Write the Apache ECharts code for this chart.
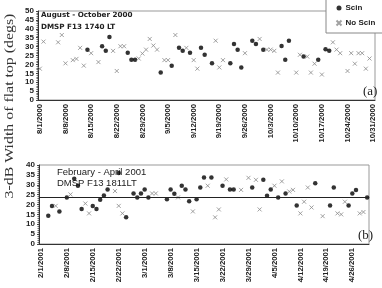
<!DOCTYPE html>
<html>
<head>
<meta charset="utf-8">
<script src="https://cdn.jsdelivr.net/npm/echarts@6/dist/echarts.min.js"></script>
<style>
  html, body { margin: 0; padding: 0; background: #fff; }
  #chart { width: 382px; height: 288px; }
</style>
</head>
<body>
<div id="chart"></div>
<script>
// weekly tick labels shown under each panel
const ticksA = ['8/1/2000', '8/8/2000', '8/15/2000', '8/22/2000', '8/29/2000', '9/5/2000', '9/12/2000',
  '9/19/2000', '9/26/2000', '10/3/2000', '10/10/2000', '10/17/2000', '10/24/2000', '10/31/2000'];
const ticksB = ['2/1/2001', '2/8/2001', '2/15/2001', '2/22/2001', '3/1/2001', '3/8/2001', '3/15/2001',
  '3/22/2001', '3/29/2001', '4/5/2001', '4/12/2001', '4/19/2001', '4/26/2001'];

// panel (a): Aug - Oct 2000
const scinA = [
  ['8/14/2000', 28.3], ['8/18/2000', 30.2], ['8/19/2000', 27.6], ['8/20/2000', 35.4], ['8/25/2000', 26.5],
  ['8/26/2000', 22.6], ['8/27/2000', 22.6], ['9/3/2000', 15.4], ['9/6/2000', 19.3], ['9/8/2000', 29.4],
  ['9/9/2000', 27.6], ['9/11/2000', 26.5], ['9/14/2000', 29.4], ['9/15/2000', 25.4], ['9/17/2000', 20.6],
  ['9/22/2000', 20.6], ['9/23/2000', 31.5], ['9/24/2000', 28.3], ['9/25/2000', 18.3], ['9/28/2000', 33.3],
  ['9/29/2000', 31.5], ['10/1/2000', 28.3], ['10/6/2000', 30.4], ['10/7/2000', 22.6], ['10/8/2000', 33.3],
  ['10/12/2000', 24.4], ['10/16/2000', 22.6], ['10/18/2000', 28.5], ['10/19/2000', 27.6]
];
const noScinA = [
  ['8/1/2000', 17.6], ['8/2/2000', 32.8], ['8/6/2000', 32.4], ['8/7/2000', 36.5], ['8/8/2000', 20.6],
  ['8/10/2000', 22.4], ['8/11/2000', 23.1], ['8/12/2000', 29.3], ['8/13/2000', 19.3], ['8/15/2000', 26.3],
  ['8/17/2000', 21.3], ['8/21/2000', 27.6], ['8/22/2000', 16.3], ['8/23/2000', 30.2], ['8/24/2000', 30.2],
  ['8/28/2000', 23.3], ['8/29/2000', 26.1], ['8/30/2000', 28.3], ['8/31/2000', 34.3], ['9/1/2000', 30.6],
  ['9/2/2000', 28.3], ['9/4/2000', 22.4], ['9/5/2000', 22.4], ['9/7/2000', 36.5], ['9/10/2000', 29.3],
  ['9/12/2000', 22.4], ['9/13/2000', 17.6], ['9/18/2000', 33.3], ['9/19/2000', 18.3], ['9/20/2000', 22.4],
  ['9/26/2000', 26.3], ['9/30/2000', 34.3], ['10/2/2000', 28.3], ['10/3/2000', 28.3], ['10/4/2000', 27.6],
  ['10/5/2000', 15.4], ['10/10/2000', 15.4], ['10/11/2000', 25.4], ['10/13/2000', 24.4], ['10/14/2000', 15.4],
  ['10/15/2000', 20.4], ['10/17/2000', 14.3], ['10/20/2000', 32.4], ['10/21/2000', 28.3], ['10/22/2000', 26.3],
  ['10/24/2000', 16.3], ['10/25/2000', 26.3], ['10/26/2000', 20.4], ['10/27/2000', 26.3], ['10/28/2000', 26.3],
  ['10/29/2000', 17.6], ['10/30/2000', 23.3]
];

// panel (b): Feb - Apr 2001
const scinB = [
  ['2/3/2001', 14.3], ['2/4/2001', 19.3], ['2/6/2001', 16.5], ['2/8/2001', 23.6], ['2/10/2001', 33],
  ['2/11/2001', 29.5], ['2/12/2001', 17.7], ['2/15/2001', 19.3], ['2/16/2001', 17.7], ['2/17/2001', 22.4],
  ['2/18/2001', 24.6], ['2/19/2001', 27.6], ['2/22/2001', 36], ['2/24/2001', 13.6], ['2/26/2001', 25.6],
  ['2/27/2001', 23.6], ['2/28/2001', 25.6], ['3/1/2001', 27.6], ['3/2/2001', 23.6], ['3/7/2001', 22.7],
  ['3/8/2001', 27.6], ['3/9/2001', 25.4], ['3/11/2001', 29.5], ['3/12/2001', 27.6], ['3/13/2001', 21.7],
  ['3/15/2001', 22.7], ['3/16/2001', 28.6], ['3/17/2001', 33.7], ['3/19/2001', 33.7], ['3/22/2001', 29.5],
  ['3/24/2001', 27.6], ['3/25/2001', 27.6], ['3/30/2001', 28.6], ['4/2/2001', 32.5], ['4/3/2001', 24.4],
  ['4/4/2001', 27.6], ['4/6/2001', 23.6], ['4/8/2001', 25.6], ['4/11/2001', 19.5], ['4/16/2001', 30.7],
  ['4/20/2001', 19.5], ['4/21/2001', 28.6], ['4/25/2001', 19.5], ['4/26/2001', 25.6], ['4/27/2001', 27.4],
  ['4/30/2001', 23.6]
];
const noScinB = [
  ['2/5/2001', 19.3], ['2/9/2001', 25.1], ['2/13/2001', 20.5], ['2/14/2001', 15.5], ['2/21/2001', 26.8],
  ['2/22/2001', 19.3], ['2/23/2001', 15.5], ['3/3/2001', 25.6], ['3/4/2001', 25.6], ['3/10/2001', 23.6],
  ['3/14/2001', 16.5], ['3/18/2001', 29.5], ['3/20/2001', 13.5], ['3/21/2001', 17.5], ['3/23/2001', 32.7],
  ['3/27/2001', 27.4], ['3/29/2001', 33.5], ['3/31/2001', 32.5], ['4/1/2001', 17.5], ['4/5/2001', 29.5],
  ['4/7/2001', 31.7], ['4/9/2001', 26.6], ['4/10/2001', 27.4], ['4/12/2001', 15.5], ['4/13/2001', 21.4],
  ['4/14/2001', 28.6], ['4/15/2001', 18.5], ['4/18/2001', 14.1], ['4/22/2001', 15.5], ['4/23/2001', 15],
  ['4/24/2001', 21.4], ['4/28/2001', 15.5], ['4/29/2001', 16.2]
];
const meanB = 23.5;

// one category per day
function dayList(y, m, d, n) {
  const out = [];
  for (let i = 0; i < n; i++) {
    const t = new Date(Date.UTC(y, m - 1, d + i));
    out.push((t.getUTCMonth() + 1) + '/' + t.getUTCDate() + '/' + t.getUTCFullYear());
  }
  return out;
}
const daysA = dayList(2000, 8, 1, 92);
const daysB = dayList(2001, 2, 1, 89);

const crossPath = 'path://M0,0L10,10M10,0L0,10';
const sans = 'Liberation Sans';

function xAxis(grid, days, ticks, daily) {
  return {
    type: 'category', gridIndex: grid, data: days, boundaryGap: true,
    axisLine: { lineStyle: { color: '#333', width: 1 } },
    axisTick: {
      alignWithLabel: true, length: daily ? 2 : 3,
      interval: daily ? 0 : (i, v) => ticks.includes(v),
      lineStyle: { color: '#444' }
    },
    axisLabel: {
      interval: (i, v) => ticks.includes(v),
      rotate: 90, fontSize: 7.7, fontWeight: 'bold', color: '#222', fontFamily: sans, margin: 4
    },
    splitLine: { show: false }
  };
}

function yAxis(grid, max) {
  return {
    type: 'value', gridIndex: grid, min: 0, max: max, interval: 5,
    axisLine: { show: true, lineStyle: { color: '#333' } },
    axisTick: { show: true, length: 2, inside: false, lineStyle: { color: '#444' } },
    minorTick: { show: true, splitNumber: 5, length: 1.5, lineStyle: { color: '#666' } },
    axisLabel: { fontSize: 8, fontWeight: 'bold', color: '#222', fontFamily: sans, margin: 4 },
    splitLine: { show: false }
  };
}

const scinStyle = { symbol: 'circle', symbolSize: 4.5, itemStyle: { color: '#000' } };
const noScinStyle = {
  symbol: crossPath, symbolSize: 4,
  itemStyle: { color: 'none', borderColor: '#8a8a8a', borderWidth: 1 }
};

const chart = echarts.init(document.getElementById('chart'), null, { renderer: 'canvas' });
chart.setOption({
  animation: false,
  backgroundColor: '#fff',
  grid: [
    { left: 38, right: 7, top: 11, bottom: 188, show: true, borderColor: '#999', borderWidth: 1 },
    { left: 39, right: 13, top: 165, bottom: 44, show: true, borderColor: '#999', borderWidth: 1 }
  ],
  xAxis: [xAxis(0, daysA, ticksA, false), xAxis(1, daysB, ticksB, true)],
  yAxis: [yAxis(0, 50), yAxis(1, 40)],
  legend: {
    orient: 'vertical', left: 326, top: -1,
    backgroundColor: '#fff', borderColor: '#888', borderWidth: 1,
    padding: [5, 14, 5, 8], itemGap: 6, itemWidth: 5, itemHeight: 5,
    textStyle: { fontSize: 8, fontWeight: 'bold', color: '#222', fontFamily: sans, padding: [0, 0, 0, -1] },
    data: ['Scin', 'No Scin']
  },
  series: [
    Object.assign({ type: 'scatter', name: 'Scin', xAxisIndex: 0, yAxisIndex: 0, data: scinA }, scinStyle),
    Object.assign({ type: 'scatter', name: 'No Scin', xAxisIndex: 0, yAxisIndex: 0, data: noScinA }, noScinStyle),
    Object.assign({
      type: 'scatter', name: 'Scin', xAxisIndex: 1, yAxisIndex: 1, data: scinB,
      markLine: {
        silent: true, symbol: 'none', label: { show: false },
        lineStyle: { color: '#222', width: 1, type: 'solid' },
        data: [{ yAxis: meanB }]
      }
    }, scinStyle),
    Object.assign({ type: 'scatter', name: 'No Scin', xAxisIndex: 1, yAxisIndex: 1, data: noScinB }, noScinStyle)
  ],
  graphic: [
    {
      type: 'text', x: 10, y: 106, rotation: Math.PI / 2, scaleX: 1.22,
      style: {
        text: '3-dB Width of flat top (degs)', font: '13px "Liberation Serif"', fill: '#333',
        textAlign: 'center', textVerticalAlign: 'middle'
      }
    },
    {
      type: 'text', x: 41, y: 12,
      style: { text: 'August - October 2000', font: 'bold 7.2px "DejaVu Sans"', fill: '#222' }
    },
    {
      type: 'text', x: 41, y: 24,
      style: { text: 'DMSP F13 1740 LT', font: 'bold 7.2px "DejaVu Sans"', fill: '#222' }
    },
    {
      type: 'text', x: 57, y: 167,
      style: { text: 'February - April 2001', font: '9.5px "Liberation Sans"', fill: '#222' }
    },
    {
      type: 'text', x: 57, y: 178,
      style: { text: 'DMSP F13 1811LT', font: '9.5px "Liberation Sans"', fill: '#222' }
    },
    {
      type: 'text', x: 363, y: 85,
      style: { text: '(a)', font: '13px "Liberation Serif"', fill: '#222' }
    },
    {
      type: 'text', x: 358, y: 229,
      style: { text: '(b)', font: '13px "Liberation Serif"', fill: '#222' }
    }
  ]
});
</script>
</body>
</html>
